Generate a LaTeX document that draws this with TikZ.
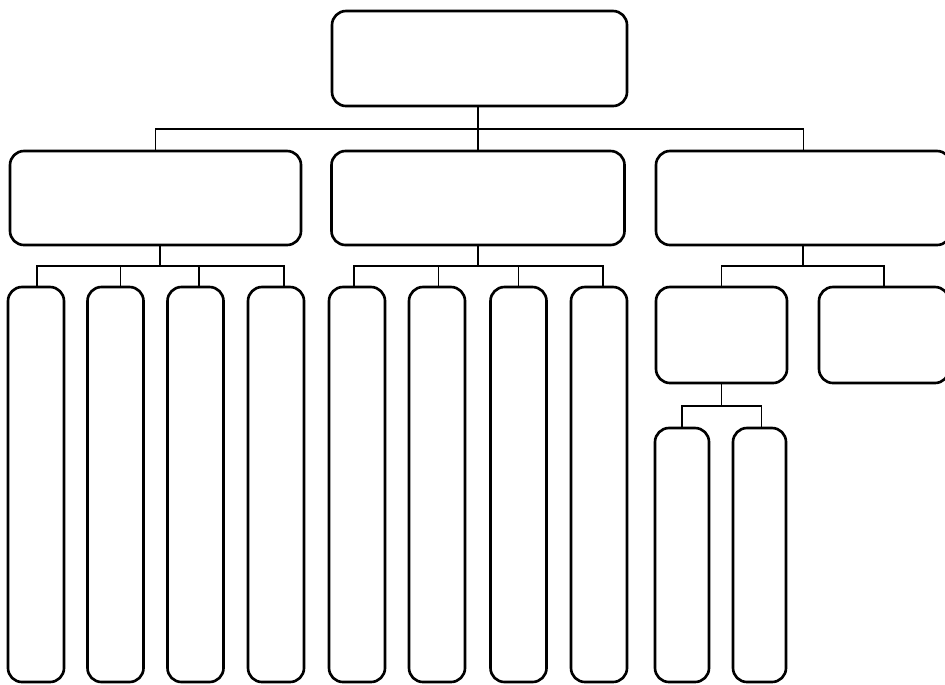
\documentclass[tikz,border=0pt]{standalone}
\usepackage{tikz}
\usetikzlibrary{calc}
\tikzset{
  unit/.style={draw=black, fill=white, line width=1.5pt, rounded corners=0.28cm, inner sep=0pt},
  wh/.style 2 args={minimum width=#1*0.02cm, minimum height=#2*0.02cm},
  link/.style={draw=black, line width=1.1pt},
}
\begin{document}
\begin{tikzpicture}[x=0.02cm, y=-0.02cm]
    \useasboundingbox (0,0) rectangle (945,684);
    % boxes
    \node[unit, wh={295}{95}] (chief) at (479.5,58.5) {};
    \node[unit, wh={291}{94}] (deptA) at (155.5,198) {};
    \node[unit, wh={293}{94}] (deptB) at (478,198) {};
    \node[unit, wh={295}{94}] (deptC) at (803.5,198) {};
    \foreach \n/\x in {a1/36, a2/115.5, a3/195.5, a4/276, b1/357, b2/437, b3/518.5, b4/599}
        \node[unit, wh={56}{395}] (\n) at (\x,484.5) {};
    \node[unit, wh={131}{96}] (c1) at (721.5,335) {};
    \node[unit, wh={130}{96}] (c2) at (884,335) {};
    \node[unit, wh={54}{254}] (c1a) at (682,555) {};
    \node[unit, wh={53}{254}] (c1b) at (759.5,555) {};
    % connectors
    \foreach \k in {deptA, deptB, deptC}
        \draw[link] ($(chief.south)+(-1.5,0)$) -- ++(0,22) -| (\k.north);
    \foreach \k/\dx in {a1/1, a2/5, a3/3.5, a4/8}
        \draw[link] ($(deptA.south)+(4.5,0)$) -- ++(0,20) -| ($(\k.north)+(\dx,0)$);
    \foreach \k/\dx in {b1/-3, b2/1.5, b3/0, b4/4}
        \draw[link] (deptB.south) -- ++(0,20) -| ($(\k.north)+(\dx,0)$);
    \foreach \k in {c1, c2}
        \draw[link] ($(deptC.south)+(-0.8,0)$) -- ++(0,20) -| (\k.north);
    \foreach \k/\dx in {c1a/0, c1b/2}
        \draw[link] (c1.south) -- ++(0,22) -| ($(\k.north)+(\dx,0)$);
\end{tikzpicture}
\end{document}
